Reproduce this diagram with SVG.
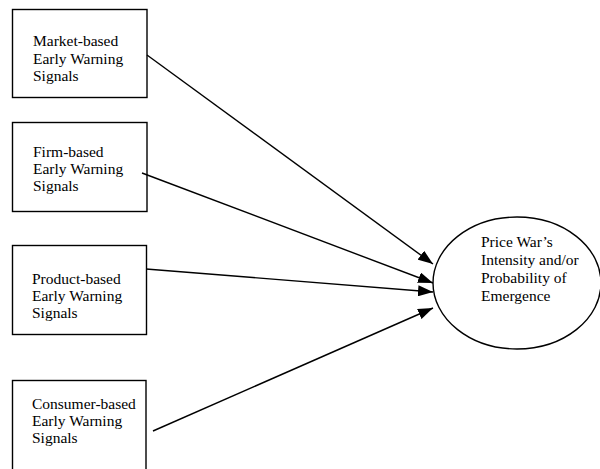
<svg xmlns="http://www.w3.org/2000/svg" width="600" height="469" viewBox="0 0 600 469">
<style>
.box{fill:#fff;stroke:#000;stroke-width:1.4}
.t{font-family:"Liberation Serif","Times New Roman",serif;font-size:15.5px;fill:#000}
.c{stroke:#000;stroke-width:1.4;fill:none;marker-end:url(#ah)}
</style>
<defs>
<marker id="ah" viewBox="0 0 15 11" refX="15" refY="5.5" markerWidth="15" markerHeight="11" markerUnits="userSpaceOnUse" orient="auto">
<path d="M0,0 L15,5.5 L0,11 Z" fill="#000"/>
</marker>
</defs>
<rect width="600" height="469" fill="#fff"/>
<g id="market">
<rect class="box" x="12.5" y="9.5" width="134.5" height="88"/>
<text class="t" x="33" y="46">Market-based</text>
<text class="t" x="33" y="64">Early Warning</text>
<text class="t" x="33" y="81">Signals</text>
</g>
<g id="firm">
<rect class="box" x="12.5" y="122.5" width="134.5" height="89"/>
<text class="t" x="33" y="157">Firm-based</text>
<text class="t" x="33" y="174">Early Warning</text>
<text class="t" x="33" y="191">Signals</text>
</g>
<g id="product">
<rect class="box" x="12.5" y="245.5" width="134" height="89"/>
<text class="t" x="32" y="284">Product-based</text>
<text class="t" x="32" y="301">Early Warning</text>
<text class="t" x="32" y="318">Signals</text>
</g>
<g id="consumer">
<rect class="box" x="12.5" y="380.5" width="133.5" height="95"/>
<text class="t" x="32" y="409">Consumer-based</text>
<text class="t" x="32" y="426">Early Warning</text>
<text class="t" x="32" y="443">Signals</text>
</g>
<g id="outcome">
<ellipse class="box" cx="517" cy="283" rx="84" ry="66"/>
<text class="t" x="481" y="247">Price War’s</text>
<text class="t" x="481" y="265">Intensity and/or</text>
<text class="t" x="481" y="283">Probability of</text>
<text class="t" x="481" y="301">Emergence</text>
</g>
<g id="connectors">
<line class="c" x1="147" y1="55" x2="433" y2="264"/>
<line class="c" x1="142" y1="173" x2="433" y2="283"/>
<line class="c" x1="146" y1="269" x2="433" y2="292"/>
<line class="c" x1="153" y1="431" x2="433" y2="308"/>
</g>
</svg>
